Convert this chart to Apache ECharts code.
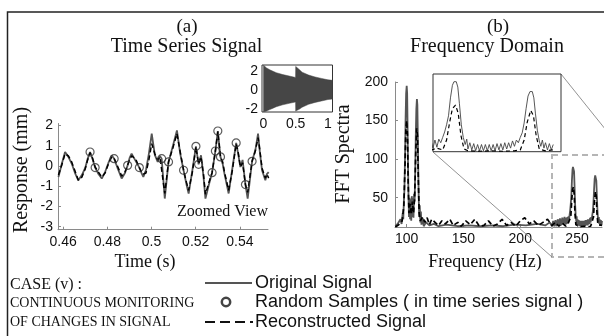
<!DOCTYPE html>
<html>
<head>
<meta charset="utf-8">
<script src="https://cdn.jsdelivr.net/npm/echarts@6/dist/echarts.min.js"></script>
<style>
html, body { margin: 0; padding: 0; background: #fff; }
#main { width: 604px; height: 336px; }
</style>
</head>
<body>
<div id="main"></div>
<script>
// ---- (a) time series, zoomed view ----
var timeS = [0.4579, 0.4594, 0.4609, 0.4624, 0.4639, 0.4654, 0.4669, 0.4685, 0.4700, 0.4711,
    0.4722, 0.4733, 0.4745, 0.4760, 0.4775, 0.4790, 0.4805, 0.4820, 0.4831, 0.4848,
    0.4865, 0.4880, 0.4892, 0.4901, 0.4910, 0.4928, 0.4945, 0.4955, 0.4963, 0.4975,
    0.4988, 0.5001, 0.5015, 0.5028, 0.5038, 0.5046, 0.5060, 0.5077, 0.5097, 0.5115,
    0.5130, 0.5145, 0.5158, 0.5168, 0.5185, 0.5201, 0.5213, 0.5224, 0.5235, 0.5244,
    0.5260, 0.5274, 0.5289, 0.5300, 0.5312, 0.5322, 0.5330, 0.5349, 0.5366, 0.5383,
    0.5392, 0.5402, 0.5412, 0.5425, 0.5435, 0.5455, 0.5470, 0.5482, 0.5490, 0.5500,
    0.5515, 0.5522, 0.5530];
var origSig = [-0.54, 0.10, 0.69, 0.45, 0.12, -0.35, -0.71, -0.45, -0.10, 0.35,
    0.69, 0.35, -0.08, -0.40, -0.62, -0.30, 0.15, 0.53, 0.36, -0.15,
    -0.62, -0.35, 0.03, 0.40, 0.61, 0.25, -0.08, -0.35, -0.54, -0.20,
    0.60, 1.60, 0.55, 0.20, 0.50, 0.36, -1.61, 0.20, 1.00, 1.76,
    0.60, -0.21, -0.90, -1.36, -0.20, 0.97, 0.08, 0.53, -0.50, -1.61,
    -0.90, -0.33, 0.74, 1.73, 0.45, 0.10, -0.38, -1.36, -0.10, 1.14,
    0.60, -0.05, 0.30, -0.92, -1.61, 0.23, 0.80, 1.60, 0.70, -0.21,
    -0.71, -0.40, -0.30];
var reconSig = [-0.45, 0.05, 0.60, 0.50, 0.20, -0.25, -0.70, -0.55, -0.15, 0.30,
    0.66, 0.40, -0.05, -0.30, -0.55, -0.35, 0.10, 0.45, 0.38, -0.05,
    -0.50, -0.30, 0.05, 0.30, 0.50, 0.35, -0.08, -0.30, -0.40, -0.35,
    0.30, 1.10, 0.60, 0.30, 0.45, 0.36, -1.35, 0.20, 0.90, 1.60,
    0.70, -0.21, -0.80, -1.20, -0.30, 0.95, 0.10, 0.45, -0.40, -1.40,
    -0.80, -0.33, 0.74, 1.70, 0.45, 0.20, -0.30, -1.20, -0.20, 1.10,
    0.70, -0.05, 0.15, -0.92, -1.30, 0.23, 0.75, 1.40, 0.80, -0.10,
    -0.60, -0.40, -0.60];
var sampleT = [0.4722, 0.4745, 0.4831, 0.4892, 0.4945, 0.5046, 0.5077, 0.5145, 0.5201,
    0.5213, 0.5274, 0.5289, 0.5300, 0.5312, 0.5383, 0.5425, 0.5455];
var sampleV = [0.69, -0.08, 0.36, 0.03, -0.08, 0.36, 0.20, -0.21, 0.97,
    0.08, -0.33, 0.74, 1.73, 0.45, 1.14, -0.92, 0.23];

// ---- (a) inset: whole record envelope ----
var envT = [0, 0.05, 0.1, 0.15, 0.2, 0.3, 0.4, 0.499, 0.501, 0.53, 0.56, 0.6, 0.7, 0.8, 0.9, 1.0, 1.07];
var envUp = [2.6, 2.3, 2.1, 1.95, 1.8, 1.6, 1.45, 1.3, 2.45, 2.25, 2.1, 1.85, 1.55, 1.35, 1.2, 1.05, 1.0];
var envLow = [-2.3, -2.2, -2.05, -1.9, -1.75, -1.55, -1.4, -1.25, -2.2, -2.1, -2.0, -1.8, -1.5, -1.3, -1.15, -1.0, -0.95];

// ---- (b) spectrum ----
var freqO = [90, 92, 93.5, 94.5, 95.5, 96.5, 97, 97.5, 98, 98.5, 99, 99.5, 100, 100.4, 100.8, 101.2,
    101.6, 102, 102.5, 103, 103.5, 104, 104.5, 105, 105.5, 106, 106.5, 107, 107.5, 108, 108.5,
    109, 109.4, 109.8, 110.2, 110.6, 111, 111.5, 112, 112.5, 113, 114, 115, 117, 120, 124, 128,
    135, 145, 155, 165, 175, 185, 195, 205, 215, 222, 226,
    228, 229, 230, 231, 232, 233, 234, 235, 236, 237, 238, 239, 240, 240.5, 241, 241.5, 242,
    242.5, 243, 243.5, 244, 244.5, 245, 245.5, 246, 246.4, 247, 247.4, 247.8, 248.3, 248.8, 249.3,
    249.7, 250, 250.5, 251, 251.5, 252, 252.5, 253, 253.5, 254, 254.5, 255, 255.5, 256, 256.5,
    257, 257.5, 258, 258.5, 259, 259.5, 260, 260.5, 261, 261.5, 262, 262.5, 263, 263.5, 264,
    264.5, 265, 265.5, 266, 266.6, 267, 267.4, 267.9, 268.4, 268.8, 269.2, 269.6, 270, 270.5, 271,
    271.5, 272];
var fftO = [13, 16, 14, 22, 16, 30, 22, 45, 60, 100, 150, 185, 195, 185, 140, 90,
    50, 25, 50, 22, 48, 20, 52, 25, 50, 24, 55, 45, 85, 130, 165,
    178, 170, 130, 85, 50, 25, 40, 18, 32, 15, 24, 13, 18, 14, 16, 13,
    15, 13, 14, 13, 14, 13, 15, 14, 16, 14, 18,
    13, 20, 13, 21, 13, 22, 14, 23, 14, 24, 15, 25, 15, 24, 16, 25, 17,
    26, 22, 28, 34, 42, 52, 72, 86, 90, 90, 84, 66, 42, 28, 20,
    26, 15, 22, 14, 21, 13, 20, 13, 20, 13, 20, 13, 20, 13, 20,
    13, 21, 14, 21, 14, 22, 15, 22, 16, 24, 18, 25, 22, 28, 33,
    44, 60, 74, 79, 79, 72, 55, 36, 24, 18, 25, 16, 22, 14, 21,
    14, 20];
var freqR = [90, 93, 96, 97.5, 98.5, 99.3, 100, 100.7, 101.3, 102, 103, 104, 105, 106, 107, 108,
    108.8, 109.5, 110.3, 111, 112, 114, 116, 118, 120, 122, 125, 128, 131, 134, 138, 141, 145,
    148, 152, 156, 160, 164, 168, 172, 176, 180, 184, 188, 192, 196, 200, 204, 208, 212, 216,
    220, 224, 228, 231, 234, 237, 240, 242, 243.5, 244.5, 245.3, 246, 246.8, 247.5, 248.2, 249,
    250, 253, 256, 259, 262, 263.5, 264.5, 265.3, 266.2, 266.9, 267.6, 268.4, 270, 272];
var fftR = [12, 15, 20, 40, 90, 140, 150, 130, 70, 30, 42, 28, 45, 30, 50, 110,
    140, 130, 70, 30, 20, 25, 18, 24, 15, 22, 18, 14, 20, 16, 22, 14, 18,
    13, 20, 15, 22, 13, 14, 20, 13, 16, 22, 14, 18, 13, 20, 24, 16, 20, 14,
    18, 22, 14, 18, 13, 17, 13, 16, 14, 25, 45, 60, 64, 55, 30, 15,
    13, 12.5, 13, 12.5, 13, 14, 25, 45, 58, 52, 30, 15, 13, 14];

// tick labels
var timeTicks = [0.46, 0.48, 0.5, 0.52, 0.54];
var respTicks = [-3, -2, -1, 0, 1, 2];
var wholeTTicks = [0, 0.5, 1];
var wholeRTicks = [-2, 0, 2];
var freqTicks = [100, 150, 200, 250];
var fftTicks = [50, 100, 150, 200];

function zip(a, b) {
    var out = [];
    for (var i = 0; i < a.length; i++) out.push([a[i], b[i]]);
    return out;
}

var SANS = '"Liberation Sans", Arial, sans-serif';
var SERIF = '"Liberation Serif", "Times New Roman", serif';
var axisGray = '#8a8a8a';

// plain MATLAB-ish axis
function axis(grid, min, max, ticks, margin, showLine) {
    return {
        type: 'value', gridIndex: grid, min: min, max: max,
        axisLine: { show: showLine, onZero: false, lineStyle: { color: axisGray, width: 1 } },
        axisTick: { show: showLine, inside: true, length: 3, customValues: ticks, lineStyle: { color: axisGray } },
        axisLabel: { customValues: ticks, margin: margin, color: '#111', fontSize: 14, fontFamily: SANS },
        splitLine: { show: false }
    };
}

var dom = document.getElementById('main');
var myChart = echarts.init(dom);

var option = {
    animation: false,
    backgroundColor: '#fff',
    grid: [
        { left: 58, top: 123.5, width: 210, height: 106.2, outerBoundsMode: 'none' },
        { left: 262, top: 65, width: 70.5, height: 47, show: true, borderColor: '#333', borderWidth: 1, outerBoundsMode: 'none' },
        { left: 395, top: 82, width: 207, height: 145, outerBoundsMode: 'none' },
        { left: 433, top: 74, width: 128, height: 77.7, show: true, backgroundColor: '#fff', borderColor: '#333', borderWidth: 1, outerBoundsMode: 'none', z: 5 }
    ],
    xAxis: [
        axis(0, 0.4577, 0.5527, timeTicks, 5, true),
        axis(1, -0.02, 1.07, wholeTTicks, 5, false),
        axis(2, 89.7, 272, freqTicks, 5, true),
        Object.assign(axis(3, 241, 274, [], 5, false), { axisLabel: { show: false } })
    ],
    yAxis: [
        axis(0, -3.15, 2.1, respTicks, 5, true),
        axis(1, -2.3, 2.6, wholeRTicks, 4, false),
        axis(2, 12, 200, fftTicks, 7, true),
        Object.assign(axis(3, 12, 98.6, [], 5, false), { axisLabel: { show: false } })
    ],
    series: [
        {
            name: 'Original Signal', type: 'line', xAxisIndex: 0, yAxisIndex: 0,
            data: zip(timeS, origSig), showSymbol: false, symbol: 'none',
            lineStyle: { color: '#555', width: 1.8 }, z: 2
        },
        {
            name: 'Reconstructed Signal', type: 'line', xAxisIndex: 0, yAxisIndex: 0,
            data: zip(timeS, reconSig), showSymbol: false, symbol: 'none',
            lineStyle: { color: '#000', width: 1.5, type: [5, 3] }, z: 3
        },
        {
            name: 'Random Samples', type: 'scatter', xAxisIndex: 0, yAxisIndex: 0,
            data: zip(sampleT, sampleV), symbol: 'circle', symbolSize: 8,
            itemStyle: { color: 'rgba(255,255,255,0)', borderColor: '#333', borderWidth: 1.2 }, z: 4
        },
        {
            type: 'line', xAxisIndex: 1, yAxisIndex: 1, data: zip(envT, envUp),
            symbol: 'none', lineStyle: { color: '#464646', width: 0.5 },
            areaStyle: { color: '#464646', opacity: 1 }
        },
        {
            type: 'line', xAxisIndex: 1, yAxisIndex: 1, data: zip(envT, envLow),
            symbol: 'none', lineStyle: { color: '#464646', width: 0.5 },
            areaStyle: { color: '#464646', opacity: 1 }
        },
        {
            type: 'line', xAxisIndex: 2, yAxisIndex: 2, data: zip(freqO, fftO),
            symbol: 'none', lineStyle: { color: '#555', width: 1.8 }, z: 2
        },
        {
            type: 'line', xAxisIndex: 2, yAxisIndex: 2, data: zip(freqR, fftR),
            symbol: 'none', lineStyle: { color: '#000', width: 1.7, type: [5, 3] }, z: 3
        },
        {
            type: 'line', xAxisIndex: 3, yAxisIndex: 3, data: zip(freqO, fftO),
            symbol: 'none', lineStyle: { color: '#444', width: 0.9 }, z: 6
        },
        {
            type: 'line', xAxisIndex: 3, yAxisIndex: 3, data: zip(freqR, fftR),
            symbol: 'none', lineStyle: { color: '#000', width: 1.2, type: [4, 3] }, z: 7
        }
    ],
    graphic: [
        // frame
        { type: 'rect', shape: { x: 7.5, y: 12, width: 700, height: 400 }, style: { fill: 'none', stroke: '#222', lineWidth: 1.5 }, z: 0 },
        // titles
        { type: 'text', x: 187, y: 27, style: { text: '(a)', font: '19px ' + SERIF, fill: '#111', align: 'center', verticalAlign: 'middle' } },
        { type: 'text', x: 186.5, y: 47, style: { text: 'Time Series Signal', font: '20px ' + SERIF, fill: '#111', align: 'center', verticalAlign: 'middle' } },
        { type: 'text', x: 498, y: 27, style: { text: '(b)', font: '19px ' + SERIF, fill: '#111', align: 'center', verticalAlign: 'middle' } },
        { type: 'text', x: 487, y: 47, style: { text: 'Frequency Domain', font: '20px ' + SERIF, fill: '#111', align: 'center', verticalAlign: 'middle' } },
        // axis names
        { type: 'text', x: 22, y: 170, rotation: Math.PI / 2, style: { text: 'Response (mm)', font: '20px ' + SERIF, fill: '#111', align: 'center', verticalAlign: 'middle' } },
        { type: 'text', x: 344, y: 154, rotation: Math.PI / 2, style: { text: 'FFT Spectra', font: '20px ' + SERIF, fill: '#111', align: 'center', verticalAlign: 'middle' } },
        { type: 'text', x: 145, y: 262, style: { text: 'Time (s)', font: '18px ' + SERIF, fill: '#111', align: 'center', verticalAlign: 'middle' } },
        { type: 'text', x: 485, y: 262, style: { text: 'Frequency (Hz)', font: '18px ' + SERIF, fill: '#111', align: 'center', verticalAlign: 'middle' } },
        { type: 'text', x: 177, y: 212, style: { text: 'Zoomed View', font: '16px ' + SERIF, fill: '#111', align: 'left', verticalAlign: 'middle' } },
        // zoom box + connectors
        { type: 'rect', shape: { x: 552, y: 155, width: 80, height: 102 }, style: { fill: 'none', stroke: '#b5b5b5', lineWidth: 2, lineDash: [6, 4] }, z: 1 },
        { type: 'line', shape: { x1: 433, y1: 152, x2: 552, y2: 257 }, style: { stroke: '#777', lineWidth: 0.8 }, z: 1 },
        { type: 'line', shape: { x1: 561, y1: 74, x2: 626, y2: 155 }, style: { stroke: '#777', lineWidth: 0.8 }, z: 1 },
        // case text
        { type: 'text', x: 10, y: 285, style: { text: 'CASE (v) :', font: '16px ' + SERIF, fill: '#111', verticalAlign: 'middle' } },
        { type: 'text', x: 10, y: 303.5, style: { text: 'CONTINUOUS MONITORING', font: '14px ' + SERIF, fill: '#111', verticalAlign: 'middle' } },
        { type: 'text', x: 10, y: 322, style: { text: 'OF CHANGES IN SIGNAL', font: '14px ' + SERIF, fill: '#111', verticalAlign: 'middle' } },
        // legend
        { type: 'line', shape: { x1: 205, y1: 283, x2: 252, y2: 283 }, style: { stroke: '#555', lineWidth: 2 } },
        { type: 'text', x: 255, y: 283, style: { text: 'Original Signal', font: '18px ' + SANS, fill: '#111', verticalAlign: 'middle' } },
        { type: 'circle', shape: { cx: 226, cy: 302, r: 4.2 }, style: { fill: 'none', stroke: '#444', lineWidth: 2.5 } },
        { type: 'text', x: 255, y: 302, style: { text: 'Random Samples ( in time series signal )', font: '18px ' + SANS, fill: '#111', verticalAlign: 'middle' } },
        { type: 'line', shape: { x1: 205, y1: 322, x2: 253, y2: 322 }, style: { stroke: '#111', lineWidth: 2.2, lineDash: [10, 5] } },
        { type: 'text', x: 255, y: 322, style: { text: 'Reconstructed Signal', font: '18px ' + SANS, fill: '#111', verticalAlign: 'middle' } }
    ]
};

myChart.setOption(option);
</script>
</body>
</html>
